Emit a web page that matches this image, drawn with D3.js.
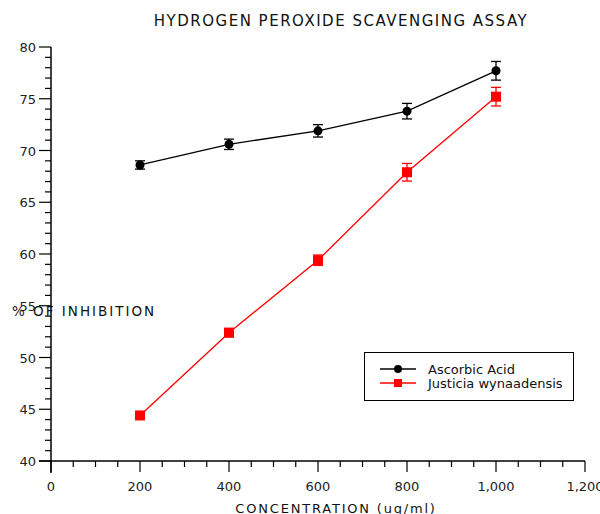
<!DOCTYPE html>
<html><head><meta charset="utf-8">
<script src="https://cdn.jsdelivr.net/npm/d3@7"></script>
<style>body{margin:0;background:#fff;} svg{display:block;font-family:"DejaVu Sans",Verdana,sans-serif;}</style>
</head><body>
<svg id="c" width="600" height="514"></svg>
<script>
const concentrations = [200, 400, 600, 800, 1000];
const ascorbicValues = [68.6, 70.6, 71.9, 73.8, 77.7];
const ascorbicErrors = [0.4, 0.5, 0.6, 0.75, 0.9];
const justiciaValues = [44.4, 52.4, 59.4, 67.9, 75.2];
const justiciaErrors = [0.3, 0.4, 0.5, 0.85, 0.9];
const xTicks = [0, 200, 400, 600, 800, 1000, 1200];
const yTicks = [40, 45, 50, 55, 60, 65, 70, 75, 80];
const seriesNames = ["Ascorbic Acid", "Justicia wynaadensis"];

const svg = d3.select("#c");
const x = d3.scaleLinear().domain([0, 1200]).range([51, 585]);
const y = d3.scaleLinear().domain([40, 80]).range([461, 47]);

// minor ticks
const g = svg.append("g");
g.selectAll(".xm").data(d3.range(0, 1201, 50)).enter().append("line")
  .attr("x1", d => x(d)).attr("x2", d => x(d)).attr("y1", 461)
  .attr("y2", d => d % 200 === 0 ? 472 : 467).attr("stroke", "#000").attr("stroke-width", 1.2);
g.selectAll(".ym").data(d3.range(40, 80.5, 1)).enter().append("line")
  .attr("y1", d => y(d)).attr("y2", d => y(d)).attr("x2", 51)
  .attr("x1", d => d % 5 === 0 ? 39 : 45).attr("stroke", "#000").attr("stroke-width", 1.2);

// axis lines
svg.append("line").attr("x1", 51).attr("x2", 51).attr("y1", y(80)).attr("y2", 473).attr("stroke", "#000").attr("stroke-width", 1.5);
svg.append("line").attr("x1", 39).attr("x2", x(1200)).attr("y1", 461).attr("y2", 461).attr("stroke", "#000").attr("stroke-width", 1.5);

// tick labels
svg.selectAll(".xl").data(xTicks).enter().append("text")
  .attr("x", d => x(d)).attr("y", 491).attr("text-anchor", "middle")
  .attr("font-size", 13).attr("fill", "#222").text(d => d3.format(",")(d));
svg.selectAll(".yl").data(yTicks).enter().append("text")
  .attr("x", 36).attr("y", d => y(d) + 5).attr("text-anchor", "end")
  .attr("font-size", 13).attr("fill", "#222").text(d => d);

// title & axis labels
svg.append("text").attr("x", 341).attr("y", 26).attr("text-anchor", "middle")
  .attr("font-size", 15).attr("letter-spacing", 1.5).attr("fill", "#111").text("HYDROGEN PEROXIDE SCAVENGING ASSAY");
svg.append("text").attr("x", 12).attr("y", 316).attr("font-size", 13.5)
  .attr("letter-spacing", 2).attr("fill", "#111").text("% OF INHIBITION");
svg.append("text").attr("x", 336).attr("y", 513).attr("text-anchor", "middle")
  .attr("font-size", 13).attr("letter-spacing", 1.8).attr("fill", "#111").text("CONCENTRATION (ug/ml)");

function drawSeries(vals, errs, color, shape) {
  const data = concentrations.map((c, i) => ({c, v: vals[i], e: errs[i]}));
  const line = d3.line().x(d => x(d.c)).y(d => y(d.v));
  svg.append("path").datum(data).attr("d", line).attr("fill", "none").attr("stroke", color).attr("stroke-width", 1.3);
  const eg = svg.append("g").attr("stroke", color).attr("stroke-width", 1.3);
  data.forEach(d => {
    eg.append("line").attr("x1", x(d.c)).attr("x2", x(d.c)).attr("y1", y(d.v + d.e)).attr("y2", y(d.v - d.e));
    eg.append("line").attr("x1", x(d.c) - 5).attr("x2", x(d.c) + 5).attr("y1", y(d.v + d.e)).attr("y2", y(d.v + d.e));
    eg.append("line").attr("x1", x(d.c) - 5).attr("x2", x(d.c) + 5).attr("y1", y(d.v - d.e)).attr("y2", y(d.v - d.e));
  });
  if (shape === "circle") {
    svg.selectAll(null).data(data).enter().append("circle")
      .attr("cx", d => x(d.c)).attr("cy", d => y(d.v)).attr("r", 4.5).attr("fill", color);
  } else {
    svg.selectAll(null).data(data).enter().append("rect")
      .attr("x", d => x(d.c) - 5).attr("y", d => y(d.v) - 5).attr("width", 10).attr("height", 10).attr("fill", color);
  }
}
drawSeries(ascorbicValues, ascorbicErrors, "#000", "circle");
drawSeries(justiciaValues, justiciaErrors, "#ff0000", "square");

// legend
const lg = svg.append("g");
lg.append("rect").attr("x", 364.5).attr("y", 352.5).attr("width", 209).attr("height", 48).attr("fill", "#fff").attr("stroke", "#000").attr("stroke-width", 1);
const colors = ["#000", "#ff0000"];
seriesNames.forEach((n, i) => {
  const yy = 369 + i * 14;
  lg.append("line").attr("x1", 380).attr("x2", 416).attr("y1", yy).attr("y2", yy).attr("stroke", colors[i]).attr("stroke-width", 1.3);
  if (i === 0) lg.append("circle").attr("cx", 398).attr("cy", yy).attr("r", 4).attr("fill", colors[i]);
  else lg.append("rect").attr("x", 394).attr("y", yy - 4).attr("width", 8).attr("height", 8).attr("fill", colors[i]);
  lg.append("text").attr("x", 428).attr("y", yy + 4.5).attr("font-size", 13).attr("fill", "#111").text(n);
});
</script>
</body></html>
